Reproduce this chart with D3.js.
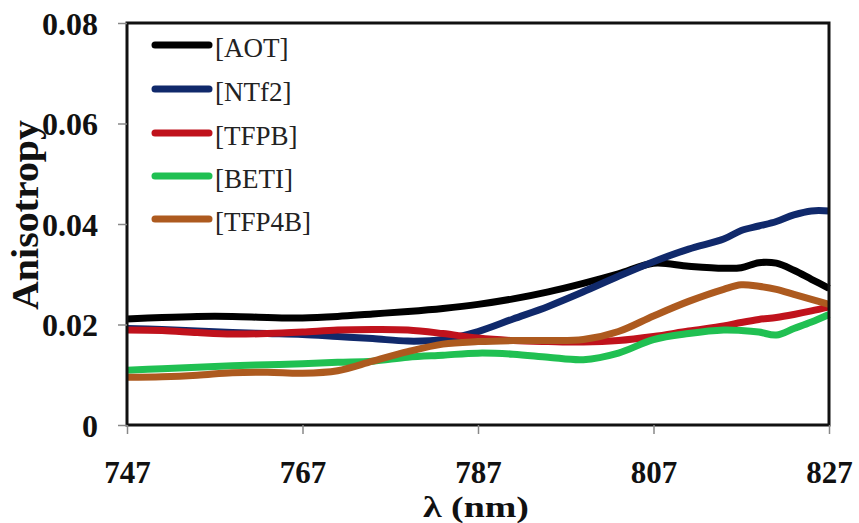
<!DOCTYPE html>
<html><head><meta charset="utf-8">
<script src="https://cdn.jsdelivr.net/npm/d3@7"></script>
<style>
html,body{margin:0;padding:0;background:#fff;}
svg{display:block;}
</style></head>
<body>
<script>
const wavelengths = [747,751,755,759,763,767,771,775,779,783,787,791,795,799,803,807,811,815,817,819,821,823,825,827];
const seriesNames = ["[AOT]","[NTf2]","[TFPB]","[BETI]","[TFP4B]"];
const seriesColors = ["#000000","#10296b","#c0121c","#20c052","#ad5a1f"];
const aot   = [0.0211,0.0214,0.0216,0.0216,0.0214,0.0213,0.0216,0.0221,0.0226,0.0232,0.0240,0.0251,0.0265,0.0282,0.0301,0.0322,0.0316,0.0312,0.0313,0.0323,0.0322,0.0308,0.0290,0.0272];
const ntf2  = [0.0192,0.0190,0.0187,0.0184,0.0182,0.0180,0.0176,0.0172,0.0167,0.0170,0.0186,0.0211,0.0236,0.0265,0.0296,0.0325,0.0350,0.0370,0.0387,0.0396,0.0405,0.0418,0.0426,0.0426];
const tfpb  = [0.0189,0.0188,0.0184,0.0181,0.0182,0.0185,0.0189,0.0190,0.0189,0.0182,0.0173,0.0168,0.0166,0.0165,0.0168,0.0176,0.0187,0.0197,0.0204,0.0210,0.0214,0.0220,0.0227,0.0235];
const beti  = [0.0109,0.0112,0.0115,0.0118,0.0120,0.0122,0.0125,0.0127,0.0135,0.0139,0.0143,0.0141,0.0135,0.0130,0.0143,0.0170,0.0182,0.0189,0.0188,0.0185,0.0179,0.0192,0.0205,0.0220];
const tfp4b = [0.0095,0.0096,0.0099,0.0104,0.0105,0.0103,0.0108,0.0127,0.0146,0.0161,0.0166,0.0168,0.0168,0.0170,0.0186,0.0217,0.0246,0.0270,0.0279,0.0276,0.0270,0.0260,0.0250,0.0240];
const xTicks = [747,767,787,807,827];
const yTicks = [0,0.02,0.04,0.06,0.08];
const yTickLabels = ["0","0.02","0.04","0.06","0.08"];

const allSeries = [aot, ntf2, tfpb, beti, tfp4b];
const W = 859, H = 523;
const svg = d3.select("body").append("svg").attr("width", W).attr("height", H);

const x = d3.scaleLinear().domain([747,827]).range([127,829]);
const y = d3.scaleLinear().domain([0,0.08]).range([425,23]);

const serif = "'Liberation Serif','Times New Roman',serif";

// lines
const line = d3.line().x(d => x(d[0])).y(d => y(d[1])).curve(d3.curveCatmullRom.alpha(0.5));
allSeries.forEach((vals, i) => {
  svg.append("path")
    .datum(wavelengths.map((w, j) => [w, vals[j]]))
    .attr("d", line)
    .attr("fill", "none")
    .attr("stroke", seriesColors[i])
    .attr("stroke-width", 7)
    .attr("stroke-linejoin", "round")
    .attr("stroke-linecap", "butt");
});

// frame
svg.append("rect").attr("x", 127).attr("y", 23).attr("width", 702).attr("height", 402)
  .attr("fill", "none").attr("stroke", "#111").attr("stroke-width", 3);

// axes
const yAxis = d3.axisLeft(y).tickValues(yTicks).tickSize(9).tickFormat((d, i) => yTickLabels[i]);
const gy = svg.append("g").attr("transform", "translate(127,0)").call(yAxis);
gy.select(".domain").remove();
gy.selectAll(".tick line").attr("stroke", "#888").attr("stroke-width", 1.5);
gy.selectAll(".tick text").attr("x", -29).attr("dy", null).attr("y", 11)
  .attr("font-family", serif).attr("font-weight", "bold").attr("font-size", 32).attr("fill", "#111");

const xAxis = d3.axisBottom(x).tickValues(xTicks).tickSize(9).tickFormat(d3.format("d"));
const gx = svg.append("g").attr("transform", "translate(0,425)").call(xAxis);
gx.select(".domain").remove();
gx.selectAll(".tick line").attr("stroke", "#888").attr("stroke-width", 1.5);
gx.selectAll(".tick text").attr("dy", null).attr("y", 58)
  .attr("font-family", serif).attr("font-weight", "bold").attr("font-size", 31).attr("fill", "#111");

// axis titles
svg.append("text").attr("transform", "translate(38,215) rotate(-90)")
  .attr("text-anchor", "middle").attr("font-family", serif).attr("font-weight", "bold")
  .attr("font-size", 38).attr("fill", "#111")
  .attr("textLength", 190).attr("lengthAdjust", "spacingAndGlyphs")
  .text("Anisotropy");
svg.append("text").attr("x", 476).attr("y", 517)
  .attr("text-anchor", "middle").attr("font-family", serif).attr("font-weight", "bold")
  .attr("font-size", 30).attr("fill", "#111")
  .attr("textLength", 106).attr("lengthAdjust", "spacingAndGlyphs")
  .text("λ (nm)");

// legend
const legY = [45, 89, 133, 176, 219];
seriesNames.forEach((name, i) => {
  const g = svg.append("g");
  g.append("line").attr("x1", 155).attr("x2", 209).attr("y1", legY[i]).attr("y2", legY[i])
    .attr("stroke", seriesColors[i]).attr("stroke-width", 7).attr("stroke-linecap", "round");
  g.append("text").attr("x", 215).attr("y", legY[i] + 12)
    .attr("font-family", serif).attr("font-size", 27).attr("fill", "#222")
    .text(name);
});
</script>
</body></html>
